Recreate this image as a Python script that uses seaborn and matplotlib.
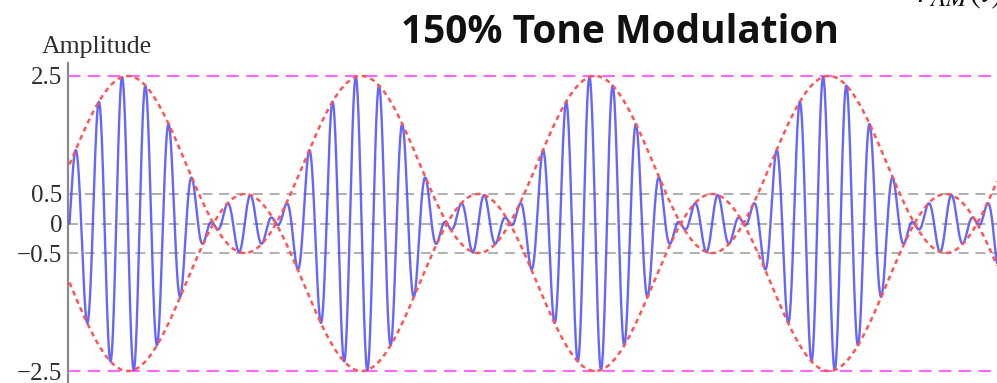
import numpy as np
import pandas as pd
import matplotlib
matplotlib.use("Agg")
import matplotlib.pyplot as plt
import seaborn as sns

# Tone-modulated AM signal: x(t) = (1 + mu*sin(t)) * sin(fc_ratio*t)
mod_index = [1.5]            # 150 % modulation
carrier_ratio = [10]          # carrier cycles per tone cycle
time_span = [0.0, 24.94]      # radians of the tone shown
n_samples = [6000]

# Reference levels and their tick labels
peak_levels = [2.5, -2.5]
inner_levels = [0.5, 0.0, -0.5]
tick_values = [2.5, 0.5, 0.0, -0.5, -2.5]
tick_labels = ["2.5", "0.5", "0", "\u22120.5", "\u22122.5"]

title_text = "150% Tone Modulation"
ylabel_text = "Amplitude"

mu = mod_index[0]
fc = carrier_ratio[0]
t = np.linspace(time_span[0], time_span[1], n_samples[0])
envelope = 1 + mu * np.sin(t)
signal = envelope * np.sin(fc * t)

df = pd.DataFrame({"t": t, "signal": signal, "env_hi": envelope, "env_lo": -envelope})

sns.set_style("white")
plt.rcParams["font.family"] = ["Liberation Serif", "DejaVu Serif"]
plt.rcParams["mathtext.fontset"] = "stix"

fig = plt.figure(figsize=(9.97, 3.83), dpi=100)
ax = fig.add_axes([68 / 997, 0.0, 1 - 68 / 997, 320 / 383])

for lv in inner_levels:
    ax.axhline(lv, color="#9a9a9a", lw=1.1, ls=(0, (6.5, 4.5)), zorder=1)
for lv in peak_levels:
    ax.axhline(lv, color="#ff66ff", lw=1.5, ls=(0, (6, 3.5)), zorder=1)

sns.lineplot(data=df, x="t", y="signal", ax=ax, color="#4a4aff", lw=1.7,
             alpha=0.85, estimator=None, sort=False, zorder=3)
sns.lineplot(data=df, x="t", y="env_hi", ax=ax, color="#ff5555", lw=1.8,
             ls=(0, (2.0, 1.6)), estimator=None, sort=False, zorder=4)
sns.lineplot(data=df, x="t", y="env_lo", ax=ax, color="#ff5555", lw=1.8,
             ls=(0, (2.0, 1.6)), estimator=None, sort=False, zorder=4)

ax.set_xlim(-0.04, time_span[1])
ax.set_ylim(-2.703, 2.72)
ax.set_xlabel("")
ax.set_ylabel("")
ax.set_xticks([])
ax.set_yticks(tick_values)
ax.set_yticklabels(tick_labels)
ax.tick_params(axis="y", length=0, pad=4, labelsize=18, labelcolor="#2e2e2e")

for side in ["top", "right", "bottom"]:
    ax.spines[side].set_visible(False)
ax.spines["left"].set_color("#8a8a8a")
ax.spines["left"].set_linewidth(1.6)

fig.text(42 / 997, 1 - 53 / 383, ylabel_text, fontsize=18.5, color="#2e2e2e",
         ha="left", va="baseline")
fig.text(620 / 997, 1 - 43 / 383, title_text, fontsize=28, fontweight="bold",
         family=["Open Sans", "DejaVu Sans"], color="#111111",
         ha="center", va="baseline")
fig.text(916 / 997, 1 - 2 / 383, r"$r_{AM}(t)$", fontsize=26, color="#111111",
         ha="left", va="baseline")

fig.savefig("out.png", dpi=100)
